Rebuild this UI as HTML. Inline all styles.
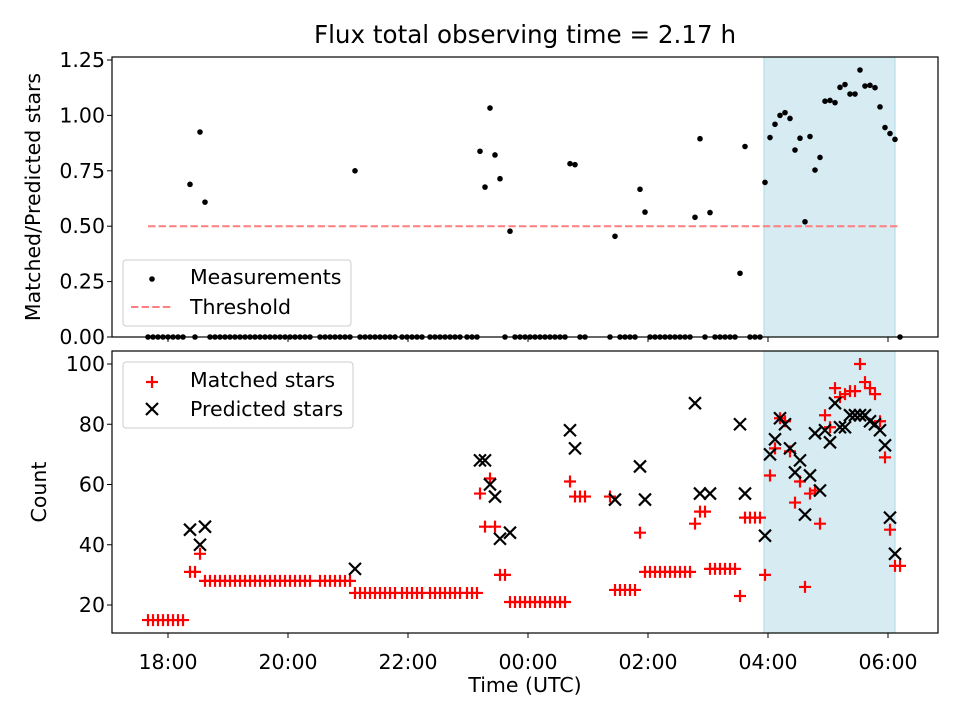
<!DOCTYPE html>
<html><head><meta charset="utf-8">
<style>
html,body{margin:0;padding:0;background:#fff;}
svg{display:block;font-family:"DejaVu Sans","Liberation Sans",sans-serif;}
</style></head>
<body>
<svg id="chart" width="960" height="720" viewBox="0 0 960 720" xmlns="http://www.w3.org/2000/svg" style="position:absolute;left:0;top:0;"></svg>
<script>
// minutes after 18:00 UTC
const times = [-20,-15,-10,-5,0,5,10,15,22,27,32,37,
42,47,52,57,62,67,72,77,82,87,92,97,102,107,112,117,122,127,132,137,142,152,157,162,167,172,177,182,
187,192,197,202,207,212,217,222,227,234,239,244,249,254,262,267,272,277,282,287,292,299,304,309,
312,317,322,327,332,337,342,347,352,357,362,367,372,377,382,387,392,397,
402,407,412,417,442,447,452,457,462,467,472,477,482,487,492,497,502,507,512,517,522,
527,532,537,542,547,552,557,562,567,572,577,582,587,592,
597,602,607,612,617,622,627,632,637,642,647,652,657,662,667,672,677,682,687,692,697,702,707,712,717,722,727,732];
const matched = [15,15,15,15,15,15,15,15,31,31,37,28,
28,28,28,28,28,28,28,28,28,28,28,28,28,28,28,28,28,28,28,28,28,28,28,28,28,28,28,28,
24,24,24,24,24,24,24,24,24,24,24,24,24,24,24,24,24,24,24,24,24,24,24,24,
57,46,62,46,30,30,21,21,21,21,21,21,21,21,21,21,21,21,
61,56,56,56,56,25,25,25,25,25,44,31,31,31,31,31,31,31,31,31,31,
47,51,51,32,32,32,32,32,32,23,49,49,49,49,
30,63,72,82,81,71,54,61,26,57,58,47,83,79,92,89,90,91,91,100,94,92,90,81,69,45,33,33];
const predicted = [null,null,null,null,null,null,null,null,45,null,40,46,
null,null,null,null,null,null,null,null,null,null,null,null,null,null,null,null,null,null,null,null,null,null,null,null,null,null,null,null,
32,null,null,null,null,null,null,null,null,null,null,null,null,null,null,null,null,null,null,null,null,null,null,null,
68,68,60,56,42,null,44,null,null,null,null,null,null,null,null,null,null,null,
78,72,null,null,null,55,null,null,null,null,66,55,null,null,null,null,null,null,null,null,null,
87,57,null,57,null,null,null,null,null,80,57,null,null,null,
43,70,75,82,80,72,64,68,50,63,77,58,78,74,87,79,79,83,83,83,83,81,80,78,73,49,37,null];
const threshold = 0.5;
const shadeRange = [596,727];
const xTicks = [0,120,240,360,480,600,720];
const xTickLabels = ["18:00","20:00","22:00","00:00","02:00","04:00","06:00"];
const topTicks = [0,0.25,0.5,0.75,1.0,1.25];
const topTickLabels = ["0.00","0.25","0.50","0.75","1.00","1.25"];
const botTicks = [20,40,60,80,100];

const svg = document.getElementById('chart');
const NS = "http://www.w3.org/2000/svg";
const FS = 20.5;
const M = 6;
function mk(tag, attrs, parent){const e=document.createElementNS(NS,tag);for(const k in attrs)e.setAttribute(k,attrs[k]);(parent||svg).appendChild(e);return e;}
const L=112,R=938,T1=57,B1=337,T2=351,B2=633;
const xs = t => 168 + t*1.0;
const y1 = v => 337 - v*221.6;
const y2 = v => 605 - (v-20)*3.0125;

for (const [T,B] of [[T1,B1],[T2,B2]]) {
  const r = mk('rect',{x:xs(shadeRange[0]),y:T,width:xs(shadeRange[1])-xs(shadeRange[0]),height:B-T,fill:'#add8e6','fill-opacity':0.5,stroke:'#add8e6','stroke-width':1});
  
  
}
const th = mk('line',{x1:xs(times[0]),x2:xs(times[times.length-1]),y1:y1(threshold),y2:y1(threshold),stroke:'#ff7f7f','stroke-width':2,'stroke-dasharray':'7.4,3.2'});



const gTop = mk('g',{});


times.forEach((t,i)=>{
  const p = predicted[i];
  const ratio = p ? matched[i]/p : 0;
  const c = mk('circle',{cx:xs(t),cy:y1(ratio),r:2.8,fill:'#000'},gTop);
  
  
});
const gM = mk('g',{stroke:'#ff0000','stroke-width':2.2});


times.forEach((t,i)=>{
  const x=xs(t), y=y2(matched[i]);
  const p = mk('path',{d:`M${x-M},${y}H${x+M}M${x},${y-M}V${y+M}`},gM);
  
  
});
const gP = mk('g',{stroke:'#000','stroke-width':2.2});


times.forEach((t,i)=>{
  if(predicted[i]==null) return;
  const x=xs(t), y=y2(predicted[i]);
  const p = mk('path',{d:`M${x-M},${y-M}L${x+M},${y+M}M${x-M},${y+M}L${x+M},${y-M}`},gP);
  
  
});

for (const [T,B,n] of [[T1,B1,'top-axes-frame'],[T2,B2,'bottom-axes-frame']]) {
  const f = mk('rect',{x:L,y:T,width:R-L,height:B-T,fill:'none',stroke:'#000','stroke-width':1.2});
  
  
}
xTicks.forEach((t,i)=>{
  const x=xs(t);
  mk('line',{x1:x,x2:x,y1:B1,y2:B1+5,stroke:'#000','stroke-width':1});
  mk('line',{x1:x,x2:x,y1:B2,y2:B2+5,stroke:'#000','stroke-width':1});
  const tx = mk('text',{x:x,y:B2+36,'text-anchor':'middle','font-size':FS});
  tx.textContent = xTickLabels[i];
  
  
});
topTicks.forEach((v,i)=>{
  const y=y1(v);
  mk('line',{x1:L-5,x2:L,y1:y,y2:y,stroke:'#000','stroke-width':1});
  const tx = mk('text',{x:L-7,y:y+7,'text-anchor':'end','font-size':FS});
  tx.textContent = topTickLabels[i];
  
  
});
botTicks.forEach(v=>{
  const y=y2(v);
  mk('line',{x1:L-5,x2:L,y1:y,y2:y,stroke:'#000','stroke-width':1});
  const tx = mk('text',{x:L-7,y:y+7,'text-anchor':'end','font-size':FS});
  tx.textContent = String(v);
  
  
});
</script>
<svg width="960" height="720" style="position:absolute;left:0;top:0;pointer-events:none;">
  <text x="525" y="43" text-anchor="middle" font-size="24.6">Flux total observing time = 2.17 h</text>
  <text transform="translate(40,197) rotate(-90)" text-anchor="middle" font-size="20.5">Matched/Predicted stars</text>
  <text transform="translate(46,492) rotate(-90)" text-anchor="middle" font-size="20.5">Count</text>
  <text x="525" y="692" text-anchor="middle" font-size="20.5">Time (UTC)</text>
  <g>
    <rect x="123" y="260" width="228" height="66" rx="3" fill="#fff" fill-opacity="0.8" stroke="#ccc"/>
    <circle cx="152" cy="279" r="2.8" fill="#000"/>
    <text x="190" y="284" font-size="20.5">Measurements</text>
    <line x1="131" y1="307" x2="173" y2="307" stroke="#ff7f7f" stroke-width="2" stroke-dasharray="7.4,3.2"/>
    <text x="190" y="314" font-size="20.5">Threshold</text>
  </g>
  <g>
    <rect x="123" y="362" width="230" height="66" rx="3" fill="#fff" fill-opacity="0.8" stroke="#ccc"/>
    <path d="M146,382H158M152,376V388" stroke="#f00" stroke-width="2.2"/>
    <text x="190" y="387" font-size="20.5">Matched stars</text>
    <path d="M146,403L158,415M146,415L158,403" stroke="#000" stroke-width="2.2"/>
    <text x="190" y="416" font-size="20.5">Predicted stars</text>
  </g>
</svg>
</body></html>
